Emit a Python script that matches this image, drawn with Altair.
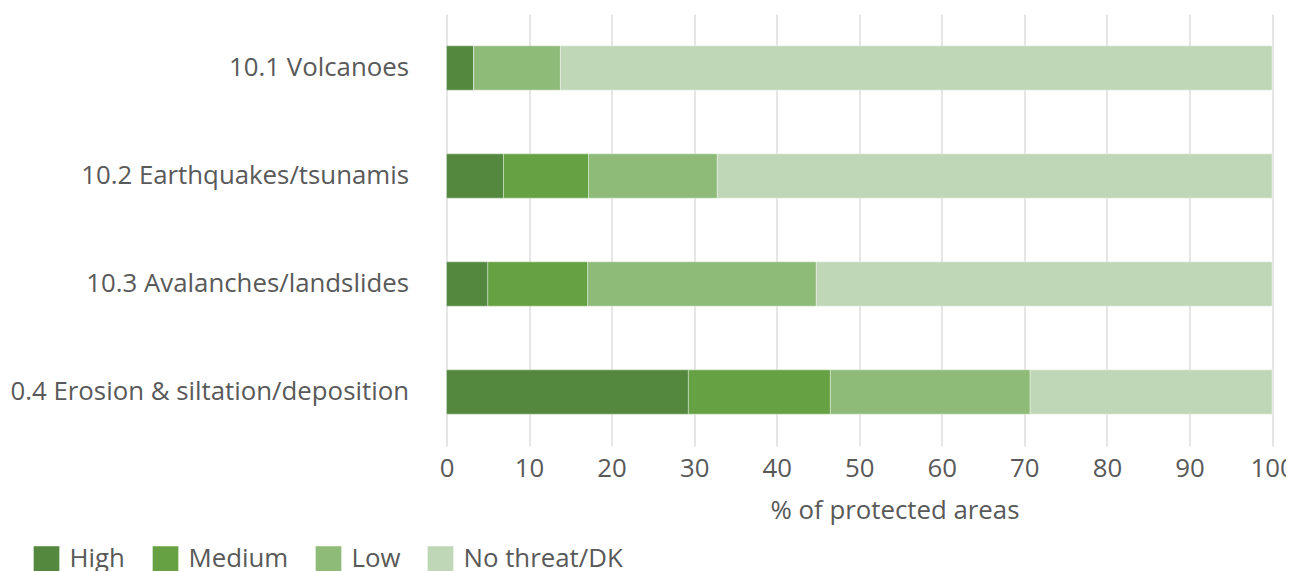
import altair as alt
import pandas as pd

categories = ["10.1 Volcanoes", "10.2 Earthquakes/tsunamis", "10.3 Avalanches/landslides",
              "10.4 Erosion & siltation/deposition"]
levels = ["High", "Medium", "Low", "No threat/DK"]
colors = ["#53883e", "#66a243", "#8fbb78", "#bfd7b6"]

high = [3.3, 6.9, 5.0, 29.3]
medium = [0.0, 10.3, 12.1, 17.2]
low = [10.5, 15.6, 27.7, 24.2]
no_threat = [86.2, 67.2, 55.2, 29.3]

rows = []
for i, c in enumerate(categories):
    for j, (lvl, vals) in enumerate(zip(levels, [high, medium, low, no_threat])):
        rows.append({"category": c, "level": lvl, "rank": j, "value": vals[i]})
df = pd.DataFrame(rows)

FONT = "Open Sans"
GREY = "#595959"
FS = 25.8

chart = alt.Chart(df).mark_bar(stroke="white", strokeWidth=0.6, strokeOpacity=0.6).encode(
    y=alt.Y("category:N", sort=categories, title=None,
            scale=alt.Scale(paddingInner=0.59, paddingOuter=0.295),
            axis=alt.Axis(labelFontSize=FS, labelFont=FONT, labelColor=GREY,
                          ticks=False, domain=False, labelPadding=38, labelLimit=700)),
    x=alt.X("value:Q", stack="zero", title="% of protected areas",
            scale=alt.Scale(domain=[0, 100], nice=False),
            axis=alt.Axis(values=list(range(0, 101, 10)), labelFontSize=FS, labelFont=FONT,
                          labelColor=GREY, titleFontSize=FS, titleFont=FONT, titleColor=GREY,
                          titleFontWeight="normal", ticks=False, domain=False,
                          gridColor="#d9d9d9", gridWidth=1.3, labelPadding=10,
                          titlePadding=18, titleX=448, titleAlign="center",
                          labelFlush=False, labelBound=False)),
    color=alt.Color("level:N", sort=levels,
                    scale=alt.Scale(domain=levels, range=colors),
                    legend=alt.Legend(title=None, orient="none", direction="horizontal",
                                      legendX=-413, legendY=532, symbolType="square",
                                      symbolSize=660, symbolStrokeWidth=0,
                                      labelFontSize=FS, labelFont=FONT, labelColor=GREY,
                                      labelOffset=10, columnPadding=27, symbolOpacity=1,
                                      labelLimit=400)),
    order=alt.Order("rank:Q", sort="ascending"),
).properties(
    width=825.5, height=432,
    autosize=alt.AutoSizeParams(type="none"),
    padding={"left": 438.5, "top": 6, "right": 14, "bottom": 125},
).configure_view(stroke=None)

chart.save("out.html", embed_options={"renderer": "svg", "actions": False})
